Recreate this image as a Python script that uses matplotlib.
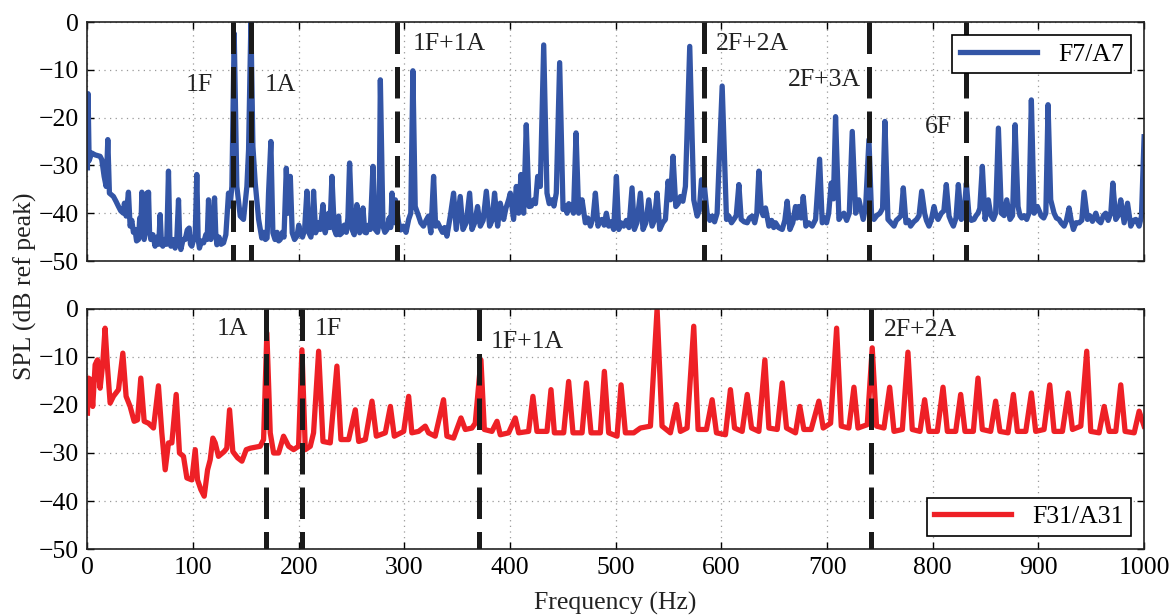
import matplotlib
matplotlib.use("Agg")
import matplotlib.pyplot as plt

plt.rcParams['font.family'] = ['Liberation Serif', 'DejaVu Serif']

# (frequency Hz, SPL dB)
blue_pts = [
    (0, -30.5), (0.6, -15), (1.6, -29), (4, -27.4), (7.3, -27.8), (12, -28.1), (13.6, -28.8),
    (15.8, -32.3), (17.7, -34.4), (19.3, -24.6), (20.8, -35.8), (24.6, -36.5), (27, -37.5),
    (29.4, -38.6), (31.5, -39.5), (34, -40), (35, -37.9), (36.6, -40.6), (38.8, -35.6),
    (40.4, -42.7), (42, -41.5), (43.5, -44), (45, -43.4), (46.5, -45.8), (48.3, -45.5),
    (49.5, -41), (50.5, -44), (51.5, -35.6), (52.5, -44.5), (53.7, -45.5), (55, -43),
    (56.2, -35.8), (57, -42), (57.8, -35.6), (58.8, -44), (60, -45.5), (62, -44.5), (64, -46.9),
    (66, -45), (67.5, -46.5), (68.8, -40.3), (70, -46), (71.3, -46.9), (73, -45.5), (75, -46.5),
    (76.7, -31.2), (78, -45), (79, -46.9), (81, -45.5), (83, -47.3), (84.5, -45.8), (86.2, -37.2),
    (87.4, -46), (88.4, -47.6), (90.5, -45.5), (92.5, -45.5), (94.5, -43.5), (96.3, -43.1),
    (97.5, -46.5), (98.8, -46.9), (100.5, -45.5), (102, -44.5), (103.5, -31.9), (104.8, -45.5),
    (106, -47.3), (108, -45.8), (110, -46.2), (112, -44.5), (113.3, -45.5), (114.6, -37.2),
    (115.7, -44), (116.8, -45.5), (118.5, -43), (120.3, -36.8), (121.4, -44), (122.5, -46.6),
    (124.5, -45), (126.5, -46.5), (128.8, -46.2), (131, -44.5), (133.5, -35.8), (135, -38.5),
    (136.7, -34.4), (138.9, -2.4), (141.4, -34.4), (144.6, -40.6), (147.7, -41.3), (150.9, -34.4),
    (152.5, -26.7), (154.7, 0), (156.6, -26), (158.8, -33.7), (162, -41.3), (165, -45.2),
    (167, -44), (168.5, -45.5), (170, -45.2), (171.4, -35.8), (173.6, -25), (175.5, -44.1),
    (177.5, -45.5), (179.5, -44), (181, -45.8), (182.5, -45.5), (184.5, -44), (186, -45),
    (188.2, -30.6), (190, -40), (192, -32.3), (193.8, -44.1), (196, -45.5), (198.3, -44.8),
    (200, -42.5), (201.4, -44.1), (203.5, -45), (205.5, -43.5), (207.7, -35.4), (209.6, -44.1),
    (211.5, -45), (213, -42), (214, -35.4), (216, -44.1), (218, -42), (220.4, -43.4),
    (222.9, -38.2), (225, -44.1), (226.5, -42.5), (228.3, -40), (229.5, -43), (231.4, -32.3),
    (233.6, -43.4), (235.5, -44.5), (237.7, -40.6), (239, -44.5), (240.9, -44.1), (243, -42.5),
    (245, -44), (246.5, -41), (248.1, -29.5), (250.4, -43.4), (252.5, -44.5), (255, -38.2),
    (257.6, -44.1), (259, -42), (260.8, -38.9), (262.5, -44), (264, -44.1), (266, -42.5),
    (267.7, -43.4), (270.2, -30.2), (272.4, -43.4), (274.5, -44), (276, -42), (277.2, -12.1),
    (279.7, -42.7), (281.5, -44), (283.5, -43.4), (285.5, -41), (287, -43), (288.2, -35.8),
    (290, -42), (291.4, -37.2), (294.5, -42), (296.5, -43.5), (299, -42.7), (301.5, -44),
    (304, -41.3), (306, -40), (308, -10.2), (310.2, -38.6), (313.4, -40.6), (315.5, -42),
    (318, -42.7), (320.5, -41.5), (322.8, -40.6), (325, -44.1), (327.6, -32.3), (329.5, -42.7),
    (331.5, -42), (333.9, -43.1), (336, -44), (338, -43), (340.2, -44.8), (343.4, -40.6),
    (346.5, -35.8), (349, -43.4), (352.8, -36.5), (355.4, -43.4), (358.5, -42), (361.7, -35.8),
    (363.9, -43.4), (366.5, -42), (369.2, -38.6), (371.8, -42.7), (374.5, -41.5), (377.5, -35.4),
    (380.6, -42.7), (383, -41.5), (385.3, -35.8), (388.2, -42.7), (390.7, -37.9), (393.9, -41.3),
    (396, -39), (398.6, -37.2), (400.2, -35.8), (403.3, -41.3), (405.9, -34.4), (408.1, -40),
    (410.3, -31.9), (412.8, -40), (415.3, -21.5), (417.9, -38.6), (420, -38.5), (422.3, -37.2),
    (424, -38), (426.1, -32.3), (428.6, -34.4), (431.8, -4.8), (434.9, -35.8), (437, -38),
    (439.6, -37.2), (441.5, -38.5), (443.7, -35.8), (446.9, -8.5), (450.1, -39.2), (452, -38.5),
    (453.9, -40), (455.5, -38), (457.6, -38.6), (460, -40), (462.4, -23.2), (464.9, -40),
    (466.5, -38.5), (468.1, -37.2), (471.2, -42), (473.5, -41), (476, -42.7), (478.5, -41),
    (480.7, -35.8), (483.2, -42.7), (485, -41.5), (487, -41.3), (489, -42.5), (491.1, -40),
    (493.3, -42.7), (495.5, -41.8), (498, -43.4), (500.6, -32.3), (502.8, -43.4), (505, -42),
    (507.5, -42.7), (510, -41.5), (512.5, -43), (515.4, -34.7), (517.6, -43.4), (520, -42),
    (523.3, -35.8), (525.8, -43.4), (528.5, -42), (531.2, -37.2), (534.4, -42.7), (536.5, -41.5),
    (539.1, -35.8), (541.6, -43.4), (544.5, -42), (547, -41.3), (549.5, -33.3), (551.7, -37.2),
    (554.2, -28.1), (556.8, -38.6), (559, -38), (561.2, -36.5), (563.5, -37.5), (565.9, -34.4),
    (570, -5.1), (573.8, -37.2), (577, -40.6), (579, -39.5), (581.1, -33), (583.9, -34.4),
    (586.4, -40), (589, -41.5), (591.2, -40.6), (593.5, -41.8), (595.9, -40), (600.7, -13.4),
    (604.8, -41.3), (607, -40.6), (609.5, -42), (611.7, -41.3), (614, -40.5), (616.5, -34),
    (618.7, -41.3), (621.5, -41.8), (624.4, -42), (626.5, -41), (629.1, -40.6), (631.5, -42),
    (633.5, -40), (635.4, -31.2), (637.6, -39.2), (639.5, -40.5), (641.7, -38.9), (644.9, -42.7),
    (647.5, -41.5), (649.5, -43), (651.2, -42), (654, -43), (657.5, -43.4), (660, -41.5),
    (662.2, -37.5), (664.8, -43.4), (667.5, -42), (670.1, -38.6), (671.5, -41), (673.3, -38.6),
    (675.5, -41), (677.4, -36.5), (679.9, -42.7), (682.5, -42), (685.9, -42.7), (689.1, -41.3),
    (692.9, -28.7), (695.4, -42), (697.5, -41), (699.5, -42), (701.5, -40), (703.9, -33.7),
    (706, -37), (708, -19.8), (711.2, -41.3), (713.5, -40.5), (715.9, -40), (718.5, -41.5),
    (721, -40), (723.8, -22.9), (727, -40), (730.1, -37.2), (734.2, -41.3), (736.5, -38.5),
    (739.6, -24.6), (742, -40), (744.3, -41.3), (747, -40.5), (750, -40), (752.5, -39),
    (754.7, -20.8), (757.6, -41.3), (760.5, -42), (763.3, -42.7), (765.5, -41.5), (768, -41),
    (770, -40.5), (772.1, -34.7), (774.6, -42), (777, -41.5), (779, -42.7), (782, -41.8),
    (784.7, -41.3), (787, -40.5), (789.5, -35.4), (792.3, -40), (794, -41.5), (796.4, -42.7),
    (798.5, -41.5), (801.2, -38.6), (803, -40.5), (805, -41.3), (808.1, -40), (810.5, -39.5),
    (812.8, -34), (815.4, -40.6), (817.5, -41.8), (819.5, -42.7), (822, -41), (824.2, -34),
    (827, -41.3), (829.5, -40.5), (831.8, -33.7), (834.3, -40.6), (836.5, -41.5), (839, -41.3),
    (841, -40.5), (842.8, -40), (844.5, -39), (846.9, -30.2), (849.5, -41.3), (852.6, -37.2),
    (855, -40.5), (857.3, -41.3), (859.5, -40), (862.1, -22.2), (864.9, -40), (867.5, -40.5),
    (870, -37.2), (873.1, -41.3), (875.5, -40.5), (877.9, -21.5), (880.7, -38.6), (882.5, -40.5),
    (884.2, -41), (886.5, -40.5), (888.9, -41.3), (891, -40), (893.3, -16.3), (895.9, -40),
    (899, -38.6), (902.8, -40.6), (905, -41), (907, -40), (909.1, -17.3), (911.6, -37.2),
    (914.8, -40), (917, -41), (919.5, -41.3), (921.5, -42), (924.3, -42.7), (926.5, -41.5),
    (929, -38.9), (931, -41.5), (933.1, -43.4), (935.5, -42), (938.5, -42), (941, -41.5),
    (943.2, -35.6), (946.4, -41.3), (948.5, -40.5), (951.1, -41.7), (954.3, -40), (956.5, -41.5),
    (959, -42), (961.5, -40.5), (963.7, -40), (966, -41.5), (968.5, -40), (970.4, -33.7),
    (973.2, -41.3), (975.5, -40.5), (977.9, -37.2), (981.1, -42), (984.3, -37.9), (987.4, -42.7),
    (990, -41.5), (992.2, -41.3), (995.3, -42.7), (997.5, -40.6), (1000, -24),
]

red_pts = [
    (0, -21.7), (1, -14.4), (3.2, -14.7), (5, -20.3), (7.3, -11.6), (9.5, -10.6), (12, -16.5),
    (14.5, -11.3), (16.7, -4), (18.9, -11.9), (21.5, -19.6), (24.6, -18.2), (29.4, -16.8),
    (33.5, -9.2), (36.6, -18.2), (40.4, -20.3), (44.2, -23.4), (47.4, -23.1), (50.5, -14.4),
    (53.7, -23.4), (57.8, -23.8), (62.5, -24.8), (67.2, -16), (70.4, -25.8), (73.6, -33.5),
    (76.7, -27.9), (79.9, -27.9), (84, -17.8), (87.1, -30), (90.9, -30.7), (94.1, -35.2),
    (98.8, -35.6), (102, -29.3), (104.2, -35.6), (107.3, -37.6), (110.5, -39), (113.7, -33.5),
    (116.2, -31.4), (118.7, -26.9), (120.9, -27.9), (124, -30.7), (129.4, -29.7), (131.9, -29),
    (134.5, -21), (137.6, -29.7), (142.1, -31), (146.2, -31.7), (150.3, -29.3), (154.1, -29),
    (163.5, -28.6), (166.7, -27.2), (169.8, -5), (173, -25.8), (176.2, -30), (180.9, -30),
    (185.6, -26.5), (190.4, -28.6), (195.1, -29.3), (199.8, -28.6), (203, -8.5), (206.2, -29.3),
    (210.9, -28.6), (214, -25.8), (218.8, -8.8), (222.9, -27.6), (229.8, -27.9), (236.1, -11.9),
    (239.9, -27.2), (247.2, -27.2), (253.5, -21), (256.7, -27.6), (263, -27.2), (269.3, -19.2),
    (273.4, -26.5), (281.9, -25.8), (286.7, -20.3), (290.4, -26.5), (299.3, -25.5), (304, -18.2),
    (307, -25.8), (313.4, -25.5), (319.7, -24.4), (322.8, -25.8), (329.1, -26.5), (337, -18.9),
    (340.2, -26.5), (346.5, -26.9), (353.5, -22.7), (357.6, -25.1), (363.9, -24.8), (367, -23.8),
    (372.4, -10.6), (375.6, -25.1), (382.8, -25.5), (387.6, -23.4), (390.7, -26.2), (398.6, -25.8),
    (404.9, -22.7), (408.1, -25.8), (417.5, -25.5), (421.6, -18.2), (425.4, -25.5), (434.9, -25.5),
    (438.7, -16.8), (441.9, -25.8), (450.7, -25.8), (455.4, -15.1), (459.5, -25.8), (468.1, -25.8),
    (472.2, -15.4), (476.6, -25.8), (485.4, -25.8), (489.2, -13), (493.3, -25.8), (501.2, -26.5),
    (505, -15.8), (509.1, -25.8), (517, -25.8), (523.3, -24.8), (532.8, -24.4), (539.1, 0),
    (543.8, -24.4), (551.7, -25.8), (557.4, -19.9), (561.2, -25.5), (567.5, -24.8), (573.8, -3.6),
    (577.9, -25.1), (585.8, -25.1), (591.2, -18.9), (595.3, -25.8), (603.8, -26.2), (608.5, -16.8),
    (612.4, -24.8), (619.6, -25.5), (624.4, -17.8), (628.5, -24.8), (635.4, -25.5), (641.1, -10.6),
    (644.9, -24.8), (652.8, -25.1), (657.5, -15.4), (661.6, -24.8), (670.1, -25.8), (674.2, -20.3),
    (678, -25.1), (684.9, -25.1), (692.2, -19.2), (696.3, -24.8), (703.3, -23.8), (709, -4),
    (713.4, -24.4), (720.6, -24.8), (725.4, -16.3), (729.2, -24.8), (738, -24.1), (742.7, -8.1),
    (746.8, -24.4), (753.8, -24.8), (759.2, -16.3), (763.3, -25.5), (771.2, -25.1), (776.5, -9),
    (780.6, -25.1), (787.9, -25.5), (792.3, -18.9), (796.4, -25.5), (804.3, -25.5), (809.7, -16.3),
    (813.8, -25.5), (821.7, -25.5), (826.4, -17.8), (830.5, -25.5), (838.4, -25.5), (842.8, -14.4),
    (846.9, -25.1), (854.8, -25.5), (859.5, -19.2), (863.6, -25.5), (871.2, -25.8), (876.3, -17.8),
    (880.1, -25.5), (888, -25.5), (893.3, -17.5), (897.4, -25.5), (905.3, -25.1), (910.7, -15.8),
    (914.8, -25.5), (922.7, -25.5), (928.1, -17.5), (932.2, -25.1), (940.1, -24.4), (945.7, -8.8),
    (949.5, -25.5), (957.4, -25.8), (962.2, -20.3), (966.9, -25.5), (973.2, -25.5), (977.9, -15.8),
    (982, -25.5), (990.6, -25.8), (995.3, -21.3), (1000, -24.4),
]

# harmonic markers: (frequency, label, label x, label y, alignment)
top_marks = [
    (138.2, "1F", 119, -14.4, "right"),
    (155.2, "1A", 168, -14.4, "left"),
    (292.9, "1F+1A", 308, -5.8, "left"),
    (583.9, "2F+2A", 595, -5.8, "left"),
    (739.5, "2F+3A", 732, -13.4, "right"),
    (831.7, "6F", 818.5, -23.3, "right"),
]
bottom_marks = [
    (168.8, "1A", 152, -5.4, "right"),
    (202.9, "1F", 215.5, -5.4, "left"),
    (370.8, "1F+1A", 382, -8.1, "left"),
    (741.1, "2F+2A", 754, -5.6, "left"),
]

blue = "#3355a6"
red = "#ee2026"
fs = 18.5

fig = plt.figure(figsize=(11.72, 6.15), dpi=100)
ax1 = fig.add_axes([0.0746, 0.5756, 0.9016, 0.3886])
ax2 = fig.add_axes([0.0746, 0.1073, 0.9016, 0.3903])


def style(ax):
    ax.set_xlim(0, 1000)
    ax.set_ylim(-50, 0)
    ax.set_xticks(range(0, 1001, 100))
    ax.set_yticks(range(-50, 1, 10))
    ax.set_axisbelow(True)
    ax.grid(True, color="#999999", linestyle=(0, (1, 3.5)), linewidth=0.9)
    ax.tick_params(direction="in", top=True, right=True, length=5, width=1,
                   labelsize=fs, pad=6)
    for s in ax.spines.values():
        s.set_linewidth(1.2)
        s.set_color("#222222")


def add_marks(ax, marks):
    for f, lab, tx, ty, ha in marks:
        ax.plot([f, f], [0, -50], color="#1a1a1a", lw=3.6,
                linestyle=(0, (6.3, 2.6)), zorder=3, solid_capstyle="butt")
        ax.text(tx, ty, lab, ha=ha, va="baseline", fontsize=fs, color="#222222", zorder=4)


style(ax1)
style(ax2)
ax1.tick_params(labelbottom=False)

bf, bs = zip(*blue_pts)
rf, rs = zip(*red_pts)
ax1.plot(bf, bs, color=blue, lw=3.8, label="F7/A7", zorder=2, solid_joinstyle="round")
ax2.plot(rf, rs, color=red, lw=3.8, label="F31/A31", zorder=2, solid_joinstyle="round")

add_marks(ax1, top_marks)
add_marks(ax2, bottom_marks)

for ax, loc in ((ax1, "upper right"), (ax2, "lower right")):
    leg = ax.legend(loc=loc, fontsize=fs, fancybox=False, edgecolor="black", framealpha=1,
                    handlelength=3.0, borderaxespad=0.5, borderpad=0.3)
    leg.get_frame().set_linewidth(1.2)
    leg.set_zorder(10)

fig.text(25 / 1172, 0.535, "SPL (dB ref peak)", rotation=90, ha="center", va="center",
         fontsize=fs, color="#222222")
fig.text(0.525, 1 - 603 / 615, "Frequency (Hz)", ha="center", va="center",
         fontsize=fs, color="#222222")

fig.savefig("out.png", dpi=100)
